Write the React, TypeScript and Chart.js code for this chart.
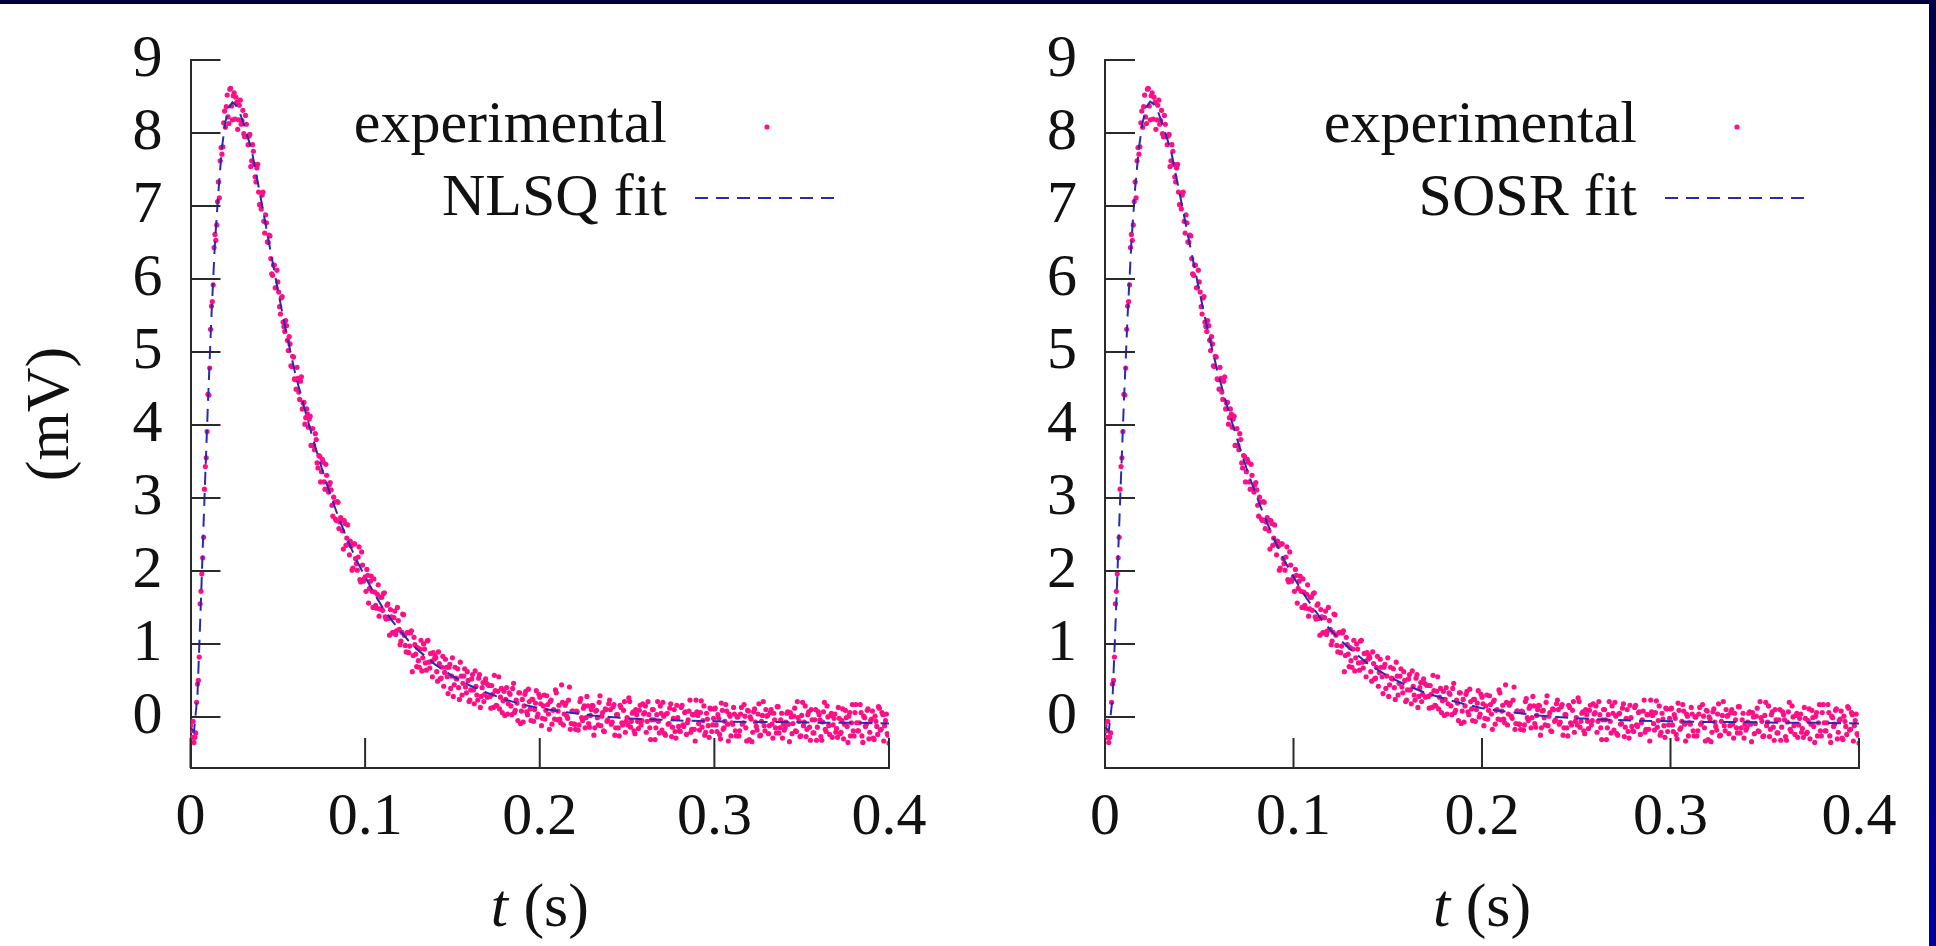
import React, { useEffect, useRef } from "react";
import { Chart, registerables } from "chart.js";

Chart.register(...registerables);

// ---------- data ----------
// experimental samples: run A at t = i ms, run B at t = i ms + 0.5 ms
const T_START = 0;
const T_STEP = 0.001;
const T_HALF = 0.0005;

const EXPERIMENTAL_A: number[] = [
  -0.12, -0.28, -0.35, -0.22, 0.45, 0.82, 1.72, 2.18, 3.12, 3.55,
  4.42, 4.78, 5.63, 5.92, 6.61, 6.74, 7.33, 7.62, 7.71, 8.14,
  8.08, 8.52, 8.13, 8.61, 8.18, 8.55, 8.49, 8.05, 8.38, 8.12,
  8.31, 7.95, 8.12, 7.84, 7.98, 7.62, 7.75, 7.40, 7.52, 7.19,
  7.02, 7.15, 6.79, 6.88, 6.51, 6.60, 6.28, 6.05, 6.19, 5.88,
  5.96, 5.62, 5.74, 5.41, 5.28, 5.36, 5.02, 5.11, 4.80, 4.93,
  4.62, 4.79, 4.45, 4.60, 4.22, 4.31, 4.10, 4.15, 4.08, 3.72,
  3.95, 3.66, 3.80, 3.41, 3.57, 3.36, 3.49, 3.12, 3.31, 3.08,
  3.21, 2.90, 3.01, 2.71, 2.95, 2.58, 2.73, 2.55, 2.69, 2.35,
  2.63, 2.22, 2.34, 2.04, 2.37, 2.10, 2.19, 1.88, 2.26, 1.86,
  1.92, 2.02, 1.56, 1.86, 1.72, 1.89, 1.53, 1.68, 1.38, 1.64,
  1.46, 1.70, 1.34, 1.55, 1.12, 1.37, 1.16, 1.45, 1.18, 1.32,
  0.99, 1.16, 1.40, 0.98, 1.15, 0.88, 1.15, 0.62, 1.09, 0.86,
  0.95, 0.68, 1.05, 0.81, 0.93, 0.64, 1.05, 0.67, 0.76, 0.88,
  0.84, 0.62, 0.89, 0.52, 0.68, 0.42, 0.79, 0.55, 0.68, 0.39,
  0.81, 0.44, 0.53, 0.66, 0.24, 0.56, 0.46, 0.66, 0.33, 0.50,
  0.23, 0.52, 0.37, 0.63, 0.30, 0.53, 0.13, 0.40, 0.21, 0.52,
  0.27, 0.43, 0.12, 0.31, 0.57, 0.16, 0.35, 0.11, 0.39, 0.22,
  0.02, 0.40, 0.18, 0.31, 0.03, 0.46, 0.09, 0.19, 0.33, -0.09,
  0.24, 0.15, 0.35, 0.03, 0.21, -0.05, 0.24, 0.10, 0.36, 0.04,
  0.27, -0.12, 0.15, -0.03, 0.29, 0.04, 0.21, -0.10, 0.10, 0.37,
  -0.04, 0.16, -0.08, 0.20, 0.04, 0.19, -0.02, 0.41, -0.09, 0.08,
  -0.10, 0.08, -0.18, 0.21, -0.01, 0.12, -0.15, 0.28, -0.09, 0.02,
  0.16, -0.25, 0.08, -0.01, 0.20, -0.12, 0.06, -0.20, 0.10, -0.04,
  0.23, -0.10, 0.14, -0.25, 0.03, -0.15, 0.16, -0.08, 0.09, -0.21,
  -0.01, 0.26, -0.14, 0.05, -0.19, 0.10, -0.06, 0.09, -0.11, 0.18,
  0.06, -0.21, 0.21, -0.15, -0.04, 0.10, -0.31, 0.03, -0.06, 0.15,
  -0.18, 0.01, -0.25, 0.05, -0.09, 0.18, -0.14, 0.10, -0.29, -0.01,
  -0.19, 0.13, -0.11, 0.06, -0.24, -0.04, 0.23, -0.17, 0.03, -0.33,
  0.07, -0.09, 0.06, -0.14, 0.15, -0.21, -0.03, -0.28, 0.11, -0.11,
  0.11, -0.11, 0.03, -0.24, 0.19, -0.17, -0.06, 0.08, -0.33, 0.01,
  -0.08, 0.13, -0.19, 0.00, -0.26, 0.04, -0.10, 0.17, -0.15, 0.09,
  -0.31, -0.03, -0.21, 0.11, -0.13, 0.04, -0.26, -0.06, 0.21, -0.19,
  0.01, -0.23, 0.06, -0.10, 0.05, -0.15, 0.14, -0.22, -0.04, -0.29,
  -0.18, -0.07, 0.07, -0.34, 0.00, -0.09, 0.12, -0.20, -0.01, -0.27,
  0.02, -0.12, 0.15, -0.17, 0.07, -0.32, -0.04, -0.22, 0.10, -0.14,
  0.03, -0.27, -0.07, 0.20, -0.20, 0.00, -0.24, 0.05, -0.11, 0.04,
  -0.16, 0.13, -0.23, -0.05, -0.30, 0.09, -0.13, 0.01, -0.26, 0.17,
  -0.26, 0.17, -0.19, -0.08, 0.06, -0.35, -0.01, -0.10, 0.11, -0.21,
  -0.03, -0.29, 0.01, -0.13, 0.14, -0.18, 0.06, -0.33, -0.05, -0.23,
  -0.36,
];

const EXPERIMENTAL_B: number[] = [
  -0.19, -0.06, -0.28, 0.20, 0.50, 1.55, 1.96, 2.46, 3.43, 3.91,
  4.41, 5.31, 5.69, 6.43, 6.53, 7.06, 7.11, 7.80, 7.81, 8.30,
  8.36, 8.22, 8.60, 8.37, 8.51, 8.19, 8.42, 8.18, 8.45, 8.17,
  7.99, 8.24, 7.95, 7.96, 7.54, 7.84, 7.57, 7.33, 7.57, 7.02,
  6.96, 7.19, 6.63, 6.77, 6.50, 6.59, 6.07, 6.19, 5.88, 6.12,
  5.82, 5.52, 5.76, 5.35, 5.43, 5.16, 5.21, 4.81, 4.94, 4.63,
  4.49, 4.64, 4.35, 4.66, 4.30, 4.01, 4.22, 3.97, 4.12, 3.72,
  3.72, 3.88, 3.48, 3.58, 3.22, 3.53, 3.22, 3.46, 3.12, 3.18,
  3.11, 2.75, 2.94, 2.69, 2.94, 2.67, 2.70, 2.30, 2.65, 2.45,
  2.37, 2.41, 2.01, 2.37, 2.17, 2.01, 2.33, 1.85, 2.08, 1.89,
  1.72, 1.94, 1.76, 1.93, 1.50, 1.71, 1.49, 1.81, 1.48, 1.64,
  1.69, 1.37, 1.53, 1.35, 1.47, 1.15, 1.36, 1.13, 1.50, 1.20,
  1.04, 1.41, 1.12, 0.89, 1.16, 0.97, 1.18, 0.84, 0.99, 0.69,
  0.77, 0.93, 0.63, 1.00, 0.74, 1.04, 0.75, 0.87, 0.55, 0.79,
  0.81, 0.49, 0.73, 0.53, 0.83, 0.61, 0.68, 0.32, 0.72, 0.56,
  0.28, 0.68, 0.52, 0.40, 0.75, 0.30, 0.56, 0.41, 0.62, 0.21,
  0.37, 0.58, 0.18, 0.42, 0.23, 0.58, 0.28, 0.47, 0.31, 0.46,
  0.44, 0.28, 0.43, 0.13, 0.36, 0.15, 0.55, 0.27, 0.06, 0.35,
  0.24, 0.04, 0.33, 0.15, 0.39, 0.06, 0.23, -0.05, 0.33, 0.08,
  -0.07, 0.31, 0.07, 0.38, 0.11, 0.24, -0.06, 0.19, 0.00, 0.31,
  0.18, -0.02, 0.30, 0.09, 0.17, -0.17, 0.23, 0.09, -0.03, 0.33,
  0.08, -0.03, 0.44, -0.11, 0.16, 0.01, 0.23, -0.17, 0.08, -0.10,
  -0.17, 0.07, -0.11, 0.25, -0.05, 0.15, -0.01, 0.15, -0.14, 0.10,
  0.15, -0.15, 0.09, -0.11, 0.29, 0.01, -0.19, 0.11, -0.06, 0.18,
  0.10, -0.07, 0.17, -0.15, 0.03, -0.26, 0.13, -0.11, 0.21, -0.06,
  -0.11, 0.21, -0.06, 0.07, -0.23, 0.03, -0.16, 0.16, -0.05, 0.04,
  0.15, -0.06, 0.03, -0.31, 0.10, -0.04, -0.15, 0.21, -0.22, 0.05,
  0.20, -0.23, 0.04, -0.10, 0.12, -0.27, -0.02, -0.20, 0.16, -0.13,
  -0.20, 0.16, -0.13, 0.07, -0.08, 0.08, -0.21, 0.03, -0.17, 0.23,
  0.02, -0.18, 0.22, -0.05, -0.25, 0.05, -0.12, 0.12, -0.20, -0.02,
  0.12, -0.20, -0.02, -0.30, 0.09, -0.15, 0.17, -0.10, 0.04, -0.26,
  -0.10, 0.04, -0.26, 0.00, -0.19, 0.13, -0.08, 0.01, -0.33, 0.08,
  0.00, -0.34, 0.07, -0.07, -0.18, 0.18, -0.25, 0.02, -0.12, 0.10,
  0.02, -0.12, 0.10, -0.29, -0.04, -0.22, 0.14, -0.15, 0.05, -0.10,
  -0.15, 0.05, -0.10, 0.06, -0.23, 0.01, -0.19, 0.21, -0.06, -0.26,
  0.20, -0.07, -0.27, 0.03, -0.14, 0.10, -0.22, -0.04, -0.32, 0.07,
  -0.04, -0.32, 0.07, -0.17, 0.15, -0.12, 0.02, -0.28, -0.02, -0.21,
  -0.28, -0.02, -0.21, 0.11, -0.10, -0.01, -0.35, 0.06, -0.08, -0.19,
  0.06, -0.08, -0.19, 0.17, -0.26, 0.01, -0.13, 0.09, -0.30, -0.05,
  0.08, -0.31, -0.06, -0.24, 0.12, -0.17, 0.03, -0.12, 0.04, -0.25,
];

const FIT_T: number[] = [
  0, 0.002, 0.004, 0.006, 0.008, 0.01, 0.012, 0.014, 0.016, 0.018,
  0.02, 0.022, 0.024, 0.026, 0.028, 0.03, 0.035, 0.04, 0.045, 0.05,
  0.055, 0.06, 0.065, 0.07, 0.075, 0.08, 0.085, 0.09, 0.095, 0.1,
  0.105, 0.11, 0.115, 0.12, 0.125, 0.13, 0.14, 0.15, 0.16, 0.17,
  0.18, 0.19, 0.2, 0.21, 0.22, 0.23, 0.24, 0.25, 0.26, 0.28,
  0.3, 0.32, 0.34, 0.36, 0.38, 0.4,
];

const NLSQ_FIT: number[] = [
  -0.15, -0.2, 0.3, 1.6, 3.0, 4.3, 5.5, 6.5, 7.2, 7.8,
  8.15, 8.35, 8.42, 8.38, 8.29, 8.16, 7.77, 7.14, 6.49, 5.85,
  5.25, 4.7, 4.25, 3.82, 3.42, 3.05, 2.72, 2.42, 2.15, 1.92,
  1.7, 1.5, 1.33, 1.18, 1.04, 0.92, 0.72, 0.56, 0.43, 0.33,
  0.24, 0.17, 0.12, 0.08, 0.05, 0.02, 0.0, -0.02, -0.03, -0.05,
  -0.06, -0.07, -0.07, -0.08, -0.08, -0.09,
];

const SOSR_FIT: number[] = [
  -0.14, -0.19, 0.25, 1.55, 2.95, 4.3, 5.5, 6.5, 7.25, 7.8,
  8.15, 8.36, 8.43, 8.39, 8.3, 8.16, 7.76, 7.12, 6.47, 5.84,
  5.24, 4.7, 4.24, 3.81, 3.41, 3.05, 2.72, 2.42, 2.15, 1.92,
  1.7, 1.51, 1.33, 1.18, 1.05, 0.93, 0.72, 0.56, 0.43, 0.33,
  0.25, 0.18, 0.12, 0.08, 0.05, 0.02, 0.0, -0.02, -0.03, -0.05,
  -0.06, -0.07, -0.07, -0.08, -0.08, -0.09,
];

const X_TICKS: number[] = [0, 0.1, 0.2, 0.3, 0.4];
const X_TICK_LABELS: string[] = ["0", "0.1", "0.2", "0.3", "0.4"];
const Y_TICKS: number[] = [0, 1, 2, 3, 4, 5, 6, 7, 8, 9];
const Y_TICK_LABELS: string[] = ["0", "1", "2", "3", "4", "5", "6", "7", "8", "9"];

const X_MIN = 0;
const X_MAX = 0.4;
const Y_MIN = -0.7;
const Y_MAX = 9;

const EXP_LABEL = "experimental";
const NLSQ_LABEL = "NLSQ fit";
const SOSR_LABEL = "SOSR fit";
const X_TITLE_VAR = "t";
const X_TITLE_UNIT = " (s)";
const Y_TITLE = "(mV)";

// ---------- styling ----------
const FONT = "'Liberation Serif', 'Times New Roman', serif";
const TEXT_COLOR = "#111";
const AXIS_COLOR = "#2a2a2a";
const EXP_COLOR = "#ff0f86";
const FIT_COLOR = "#2a2ab0";
const TICK_LEN = 30;
const W = 1936;
const H = 946;

type PanelProps = {
  left: number;
  width: number;
  axisWidth: number;
  padRight: number;
  fit: number[];
  fitLabel: string;
  showYTitle: boolean;
};

function Panel({ left, width, axisWidth, padRight, fit, fitLabel, showYTitle }: PanelProps) {
  const ref = useRef<HTMLCanvasElement>(null);

  useEffect(() => {
    const canvas = ref.current;
    if (!canvas) return;

    const inwardTicks = {
      id: "inwardTicks",
      afterDraw(chart: any) {
        const { ctx, chartArea } = chart;
        const xs = chart.scales.x;
        const ys = chart.scales.y;
        ctx.save();
        ctx.strokeStyle = AXIS_COLOR;
        ctx.lineWidth = 2;
        ctx.beginPath();
        Y_TICKS.forEach((v) => {
          const py = ys.getPixelForValue(v);
          ctx.moveTo(chartArea.left, py);
          ctx.lineTo(chartArea.left + TICK_LEN, py);
        });
        X_TICKS.forEach((v) => {
          const px = xs.getPixelForValue(v);
          ctx.moveTo(px, chartArea.bottom);
          ctx.lineTo(px, chartArea.bottom - TICK_LEN);
        });
        ctx.stroke();
        ctx.restore();
      },
    };

    const keyAndTitle = {
      id: "keyAndTitle",
      afterDraw(chart: any) {
        const { ctx, chartArea } = chart;
        ctx.save();
        // key
        const textRight = chartArea.right - 222;
        ctx.fillStyle = TEXT_COLOR;
        ctx.font = `60px ${FONT}`;
        ctx.textAlign = "right";
        ctx.textBaseline = "alphabetic";
        ctx.fillText(EXP_LABEL, textRight, chartArea.top + 82);
        ctx.fillText(fitLabel, textRight, chartArea.top + 155);
        ctx.fillStyle = EXP_COLOR;
        ctx.beginPath();
        ctx.arc(textRight + 100, chartArea.top + 67, 2.6, 0, Math.PI * 2);
        ctx.fill();
        ctx.strokeStyle = FIT_COLOR;
        ctx.lineWidth = 2;
        ctx.setLineDash([13, 8]);
        ctx.beginPath();
        ctx.moveTo(textRight + 28, chartArea.top + 138);
        ctx.lineTo(textRight + 172, chartArea.top + 138);
        ctx.stroke();
        ctx.setLineDash([]);
        // x title: italic t + (s)
        ctx.fillStyle = TEXT_COLOR;
        ctx.textAlign = "left";
        const italic = `italic 62px ${FONT}`;
        const normal = `62px ${FONT}`;
        ctx.font = italic;
        const w1 = ctx.measureText(X_TITLE_VAR).width;
        ctx.font = normal;
        const w2 = ctx.measureText(X_TITLE_UNIT).width;
        const cx = (chartArea.left + chartArea.right) / 2;
        const x0 = cx - (w1 + w2) / 2;
        const by = 926;
        ctx.font = italic;
        ctx.fillText(X_TITLE_VAR, x0, by);
        ctx.font = normal;
        ctx.fillText(X_TITLE_UNIT, x0 + w1, by);
        ctx.restore();
      },
    };

    const fitData = FIT_T.map((t, i) => ({ x: t, y: fit[i] }));
    const expData = [
      ...EXPERIMENTAL_A.map((y, i) => ({ x: T_START + i * T_STEP, y })),
      ...EXPERIMENTAL_B.map((y, i) => ({ x: T_START + T_HALF + i * T_STEP, y })),
    ];

    const tickFont = { family: FONT, size: 60, lineHeight: 1 };

    const chart = new Chart(canvas, {
      type: "scatter",
      data: {
        datasets: [
          {
            type: "line",
            label: fitLabel,
            data: fitData,
            borderColor: FIT_COLOR,
            borderWidth: 2,
            borderDash: [13, 8],
            pointRadius: 0,
            fill: false,
            tension: 0,
            order: 0,
          } as any,
          {
            type: "scatter",
            label: EXP_LABEL,
            data: expData,
            backgroundColor: EXP_COLOR,
            borderWidth: 0,
            pointRadius: 2.6,
            showLine: false,
            order: 1,
          } as any,
        ],
      },
      options: {
        responsive: false,
        animation: false,
        devicePixelRatio: 1,
        events: [],
        layout: { padding: { left: 0, right: padRight, top: 60, bottom: 0 } },
        plugins: {
          legend: { display: false },
          tooltip: { enabled: false },
        },
        scales: {
          x: {
            type: "linear",
            min: X_MIN,
            max: X_MAX,
            afterBuildTicks: (s: any) => {
              s.ticks = X_TICKS.map((v) => ({ value: v }));
            },
            afterFit: (s: any) => {
              s.height = H - 768;
            },
            grid: { display: false, drawTicks: false },
            border: { display: true, color: AXIS_COLOR, width: 2 },
            ticks: {
              padding: 20,
              color: TEXT_COLOR,
              font: tickFont,
              maxRotation: 0,
              autoSkip: false,
              callback: (_v: any, i: number) => X_TICK_LABELS[i],
            },
          },
          y: {
            type: "linear",
            min: Y_MIN,
            max: Y_MAX,
            afterBuildTicks: (s: any) => {
              s.ticks = Y_TICKS.map((v) => ({ value: v }));
            },
            afterFit: (s: any) => {
              s.width = axisWidth;
            },
            grid: { display: false, drawTicks: false },
            border: { display: true, color: AXIS_COLOR, width: 2 },
            ticks: {
              padding: 28,
              color: TEXT_COLOR,
              font: tickFont,
              autoSkip: false,
              callback: (_v: any, i: number) => Y_TICK_LABELS[i],
            },
            title: {
              display: showYTitle,
              text: Y_TITLE,
              color: TEXT_COLOR,
              font: { family: FONT, size: 62, lineHeight: 1 },
              padding: { top: 21, bottom: 0 },
            },
          },
        },
      } as any,
      plugins: [inwardTicks, keyAndTitle],
    });

    return () => chart.destroy();
  }, []);

  return (
    <canvas
      ref={ref}
      width={width}
      height={H}
      style={{ position: "absolute", left, top: 0, width, height: H }}
    />
  );
}

export default function App() {
  return (
    <div
      style={{
        position: "fixed",
        left: 0,
        top: 0,
        width: W,
        height: H,
        background: "#ffffff",
        overflow: "hidden",
      }}
    >
      <Panel left={0} width={968} axisWidth={190.5} padRight={968 - 889} fit={NLSQ_FIT} fitLabel={NLSQ_LABEL} showYTitle={true} />
      <Panel left={968} width={968} axisWidth={1105 - 968} padRight={1936 - 1859} fit={SOSR_FIT} fitLabel={SOSR_LABEL} showYTitle={false} />
      <div style={{ position: "absolute", left: 0, top: 0, width: W, height: 4, background: "#00003c" }} />
      <div
        style={{
          position: "absolute",
          right: 0,
          top: 0,
          width: 7,
          height: H,
          background: "linear-gradient(#000048, #00009c)",
        }}
      />
    </div>
  );
}
